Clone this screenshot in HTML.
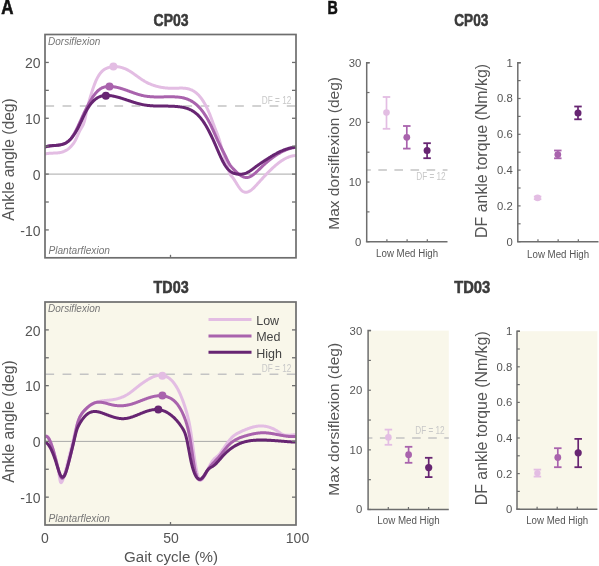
<!DOCTYPE html>
<html><head><meta charset="utf-8"><style>
html,body{margin:0;padding:0;background:#fff;width:599px;height:566px;overflow:hidden;}
svg{display:block;font-family:"Liberation Sans", sans-serif;will-change:transform;}
</style></head><body>
<svg width="599" height="566" viewBox="0 0 599 566" font-family='"Liberation Sans", sans-serif'>
<rect width="599" height="566" fill="#ffffff"/>
<text x="1.2" y="14.3" font-size="19.6" fill="#111111" text-anchor="start" font-weight="bold" font-style="normal" textLength="12.2" lengthAdjust="spacingAndGlyphs" stroke="#111" stroke-width="0.6">A</text>
<text x="327.5" y="14.0" font-size="19.0" fill="#111111" text-anchor="start" font-weight="bold" font-style="normal" textLength="10.3" lengthAdjust="spacingAndGlyphs" stroke="#111" stroke-width="0.6">B</text>
<line x1="45.0" y1="174.1" x2="296.0" y2="174.1" stroke="#a8a8a8" stroke-width="1"/>
<line x1="45.0" y1="106.1" x2="296.0" y2="106.1" stroke="#c4c4c4" stroke-width="1.5" stroke-dasharray="8.8 8.45" stroke-dashoffset="-0.3"/>
<text x="291.3" y="103.8" font-size="10.0" fill="#c8c8c8" text-anchor="end" font-weight="normal" font-style="normal" textLength="29.5" lengthAdjust="spacingAndGlyphs" >DF = 12</text>
<clipPath id="clip34"><rect x="45.0" y="34.5" width="251.0" height="223.3"/></clipPath>
<g clip-path="url(#clip34)" fill="none" stroke-width="3" stroke-linecap="round" stroke-linejoin="round">
<path d="M45.0,154.00 L45.5,153.88 L46.0,153.77 L46.5,153.67 L47.0,153.59 L47.5,153.51 L48.0,153.45 L48.5,153.39 L49.0,153.34 L49.5,153.30 L50.0,153.26 L50.5,153.23 L51.0,153.21 L51.5,153.18 L52.0,153.16 L52.5,153.15 L53.0,153.13 L53.5,153.11 L54.0,153.10 L54.5,153.08 L55.0,153.06 L55.5,153.04 L56.0,153.01 L56.5,152.98 L57.0,152.94 L57.5,152.90 L58.0,152.85 L58.5,152.79 L59.0,152.72 L59.5,152.65 L60.0,152.56 L60.5,152.47 L61.0,152.36 L61.5,152.24 L62.0,152.10 L62.5,151.95 L63.0,151.79 L63.5,151.60 L64.0,151.41 L64.5,151.19 L65.0,150.96 L65.5,150.70 L66.0,150.43 L66.5,150.14 L67.0,149.82 L67.5,149.48 L68.0,149.12 L68.5,148.74 L69.0,148.32 L69.5,147.89 L70.0,147.42 L70.5,146.93 L71.0,146.41 L71.5,145.87 L72.0,145.29 L72.5,144.67 L73.0,144.02 L73.5,143.32 L74.0,142.58 L74.5,141.78 L75.0,140.93 L75.5,140.02 L76.0,139.04 L76.5,137.99 L77.0,136.90 L77.5,135.78 L78.0,134.65 L78.5,133.52 L79.0,132.43 L79.5,131.37 L80.0,130.39 L80.5,129.48 L81.0,128.64 L81.5,127.83 L82.0,127.00 L82.5,126.10 L83.0,125.08 L83.5,123.89 L84.0,122.49 L84.5,120.83 L85.0,118.86 L85.5,116.60 L86.0,114.20 L86.5,111.77 L87.0,109.46 L87.5,107.32 L88.0,105.32 L88.5,103.44 L89.0,101.65 L89.5,99.91 L90.0,98.20 L90.5,96.51 L91.0,94.85 L91.5,93.22 L92.0,91.63 L92.5,90.08 L93.0,88.58 L93.5,87.12 L94.0,85.72 L94.5,84.37 L95.0,83.09 L95.5,81.87 L96.0,80.72 L96.5,79.63 L97.0,78.61 L97.5,77.65 L98.0,76.74 L98.5,75.89 L99.0,75.10 L99.5,74.36 L100.0,73.67 L100.5,73.02 L101.0,72.43 L101.5,71.87 L102.0,71.36 L102.5,70.89 L103.0,70.45 L103.5,70.05 L104.0,69.69 L104.5,69.35 L105.0,69.05 L105.5,68.77 L106.0,68.52 L106.5,68.29 L107.0,68.08 L107.5,67.89 L108.0,67.72 L108.5,67.56 L109.0,67.41 L109.5,67.28 L110.0,67.16 L110.5,67.05 L111.0,66.95 L111.5,66.86 L112.0,66.79 L112.5,66.73 L113.0,66.68 L113.5,66.64 L114.0,66.61 L114.5,66.59 L115.0,66.58 L115.5,66.59 L116.0,66.61 L116.5,66.64 L117.0,66.67 L117.5,66.72 L118.0,66.78 L118.5,66.86 L119.0,66.94 L119.5,67.03 L120.0,67.14 L120.5,67.25 L121.0,67.37 L121.5,67.51 L122.0,67.65 L122.5,67.81 L123.0,67.98 L123.5,68.15 L124.0,68.34 L124.5,68.53 L125.0,68.74 L125.5,68.96 L126.0,69.18 L126.5,69.42 L127.0,69.66 L127.5,69.92 L128.0,70.18 L128.5,70.45 L129.0,70.74 L129.5,71.03 L130.0,71.33 L130.5,71.64 L131.0,71.96 L131.5,72.28 L132.0,72.61 L132.5,72.95 L133.0,73.29 L133.5,73.64 L134.0,73.99 L134.5,74.35 L135.0,74.70 L135.5,75.06 L136.0,75.42 L136.5,75.79 L137.0,76.15 L137.5,76.51 L138.0,76.87 L138.5,77.23 L139.0,77.59 L139.5,77.94 L140.0,78.29 L140.5,78.64 L141.0,78.98 L141.5,79.32 L142.0,79.65 L142.5,79.97 L143.0,80.29 L143.5,80.60 L144.0,80.90 L144.5,81.20 L145.0,81.48 L145.5,81.76 L146.0,82.04 L146.5,82.30 L147.0,82.56 L147.5,82.81 L148.0,83.06 L148.5,83.30 L149.0,83.53 L149.5,83.75 L150.0,83.97 L150.5,84.18 L151.0,84.39 L151.5,84.59 L152.0,84.78 L152.5,84.97 L153.0,85.15 L153.5,85.32 L154.0,85.49 L154.5,85.66 L155.0,85.81 L155.5,85.97 L156.0,86.11 L156.5,86.25 L157.0,86.39 L157.5,86.52 L158.0,86.64 L158.5,86.76 L159.0,86.88 L159.5,86.99 L160.0,87.09 L160.5,87.19 L161.0,87.28 L161.5,87.37 L162.0,87.46 L162.5,87.54 L163.0,87.61 L163.5,87.69 L164.0,87.75 L164.5,87.81 L165.0,87.87 L165.5,87.93 L166.0,87.98 L166.5,88.02 L167.0,88.07 L167.5,88.10 L168.0,88.14 L168.5,88.17 L169.0,88.20 L169.5,88.22 L170.0,88.24 L170.5,88.26 L171.0,88.27 L171.5,88.28 L172.0,88.29 L172.5,88.29 L173.0,88.29 L173.5,88.29 L174.0,88.28 L174.5,88.27 L175.0,88.26 L175.5,88.25 L176.0,88.24 L176.5,88.22 L177.0,88.20 L177.5,88.18 L178.0,88.17 L178.5,88.15 L179.0,88.13 L179.5,88.12 L180.0,88.11 L180.5,88.10 L181.0,88.10 L181.5,88.10 L182.0,88.11 L182.5,88.12 L183.0,88.14 L183.5,88.16 L184.0,88.19 L184.5,88.24 L185.0,88.28 L185.5,88.34 L186.0,88.41 L186.5,88.49 L187.0,88.58 L187.5,88.68 L188.0,88.79 L188.5,88.92 L189.0,89.06 L189.5,89.21 L190.0,89.38 L190.5,89.57 L191.0,89.77 L191.5,89.98 L192.0,90.21 L192.5,90.46 L193.0,90.73 L193.5,91.02 L194.0,91.33 L194.5,91.65 L195.0,92.00 L195.5,92.37 L196.0,92.76 L196.5,93.17 L197.0,93.61 L197.5,94.06 L198.0,94.55 L198.5,95.05 L199.0,95.59 L199.5,96.15 L200.0,96.73 L200.5,97.34 L201.0,97.98 L201.5,98.65 L202.0,99.35 L202.5,100.08 L203.0,100.83 L203.5,101.62 L204.0,102.44 L204.5,103.29 L205.0,104.17 L205.5,105.09 L206.0,106.04 L206.5,107.02 L207.0,108.04 L207.5,109.09 L208.0,110.18 L208.5,111.31 L209.0,112.47 L209.5,113.67 L210.0,114.91 L210.5,116.19 L211.0,117.50 L211.5,118.83 L212.0,120.19 L212.5,121.55 L213.0,122.92 L213.5,124.28 L214.0,125.64 L214.5,126.98 L215.0,128.29 L215.5,129.58 L216.0,130.82 L216.5,132.06 L217.0,133.30 L217.5,134.58 L218.0,135.92 L218.5,137.35 L219.0,138.89 L219.5,140.53 L220.0,142.23 L220.5,143.98 L221.0,145.72 L221.5,147.45 L222.0,149.13 L222.5,150.79 L223.0,152.42 L223.5,154.03 L224.0,155.62 L224.5,157.20 L225.0,158.77 L225.5,160.34 L226.0,161.91 L226.5,163.48 L227.0,165.06 L227.5,166.66 L228.0,168.28 L228.5,169.92 L229.0,171.53 L229.5,172.99 L230.0,174.19 L230.5,175.02 L231.0,175.60 L231.5,176.11 L232.0,176.68 L232.5,177.30 L233.0,177.96 L233.5,178.66 L234.0,179.40 L234.5,180.16 L235.0,180.95 L235.5,181.75 L236.0,182.56 L236.5,183.37 L237.0,184.18 L237.5,184.98 L238.0,185.76 L238.5,186.53 L239.0,187.26 L239.5,187.96 L240.0,188.62 L240.5,189.24 L241.0,189.80 L241.5,190.31 L242.0,190.75 L242.5,191.14 L243.0,191.46 L243.5,191.73 L244.0,191.94 L244.5,192.10 L245.0,192.21 L245.5,192.26 L246.0,192.27 L246.5,192.24 L247.0,192.16 L247.5,192.04 L248.0,191.88 L248.5,191.69 L249.0,191.45 L249.5,191.19 L250.0,190.89 L250.5,190.56 L251.0,190.20 L251.5,189.82 L252.0,189.41 L252.5,188.98 L253.0,188.53 L253.5,188.06 L254.0,187.57 L254.5,187.07 L255.0,186.55 L255.5,186.03 L256.0,185.49 L256.5,184.95 L257.0,184.40 L257.5,183.85 L258.0,183.30 L258.5,182.74 L259.0,182.19 L259.5,181.64 L260.0,181.09 L260.5,180.54 L261.0,179.99 L261.5,179.45 L262.0,178.90 L262.5,178.36 L263.0,177.82 L263.5,177.28 L264.0,176.75 L264.5,176.21 L265.0,175.68 L265.5,175.15 L266.0,174.63 L266.5,174.11 L267.0,173.59 L267.5,173.07 L268.0,172.56 L268.5,172.06 L269.0,171.55 L269.5,171.06 L270.0,170.56 L270.5,170.07 L271.0,169.59 L271.5,169.11 L272.0,168.64 L272.5,168.17 L273.0,167.70 L273.5,167.25 L274.0,166.80 L274.5,166.35 L275.0,165.91 L275.5,165.48 L276.0,165.05 L276.5,164.64 L277.0,164.22 L277.5,163.82 L278.0,163.42 L278.5,163.03 L279.0,162.65 L279.5,162.28 L280.0,161.91 L280.5,161.55 L281.0,161.20 L281.5,160.86 L282.0,160.53 L282.5,160.21 L283.0,159.90 L283.5,159.59 L284.0,159.30 L284.5,159.01 L285.0,158.74 L285.5,158.47 L286.0,158.22 L286.5,157.97 L287.0,157.74 L287.5,157.52 L288.0,157.31 L288.5,157.11 L289.0,156.92 L289.5,156.74 L290.0,156.57 L290.5,156.42 L291.0,156.28 L291.5,156.15 L292.0,156.03 L292.5,155.92 L293.0,155.83 L293.5,155.75 L294.0,155.68 L294.5,155.63 L295.0,155.59 L295.5,155.57 L296.0,155.55 L296.5,155.56 L297.0,155.57" stroke="#e3bde3"/>
<path d="M45.0,147.00 L45.5,146.86 L46.0,146.72 L46.5,146.60 L47.0,146.49 L47.5,146.39 L48.0,146.30 L48.5,146.21 L49.0,146.14 L49.5,146.07 L50.0,146.00 L50.5,145.94 L51.0,145.88 L51.5,145.83 L52.0,145.78 L52.5,145.74 L53.0,145.69 L53.5,145.65 L54.0,145.60 L54.5,145.56 L55.0,145.51 L55.5,145.47 L56.0,145.42 L56.5,145.37 L57.0,145.31 L57.5,145.25 L58.0,145.18 L58.5,145.11 L59.0,145.03 L59.5,144.95 L60.0,144.85 L60.5,144.75 L61.0,144.64 L61.5,144.52 L62.0,144.39 L62.5,144.24 L63.0,144.09 L63.5,143.92 L64.0,143.74 L64.5,143.53 L65.0,143.31 L65.5,143.07 L66.0,142.81 L66.5,142.52 L67.0,142.20 L67.5,141.86 L68.0,141.49 L68.5,141.08 L69.0,140.64 L69.5,140.16 L70.0,139.65 L70.5,139.10 L71.0,138.50 L71.5,137.86 L72.0,137.18 L72.5,136.46 L73.0,135.69 L73.5,134.89 L74.0,134.05 L74.5,133.17 L75.0,132.27 L75.5,131.33 L76.0,130.37 L76.5,129.39 L77.0,128.38 L77.5,127.35 L78.0,126.31 L78.5,125.25 L79.0,124.17 L79.5,123.09 L80.0,122.00 L80.5,120.90 L81.0,119.80 L81.5,118.69 L82.0,117.59 L82.5,116.49 L83.0,115.40 L83.5,114.31 L84.0,113.23 L84.5,112.17 L85.0,111.12 L85.5,110.08 L86.0,109.06 L86.5,108.05 L87.0,107.06 L87.5,106.09 L88.0,105.14 L88.5,104.20 L89.0,103.28 L89.5,102.38 L90.0,101.50 L90.5,100.64 L91.0,99.81 L91.5,98.99 L92.0,98.20 L92.5,97.43 L93.0,96.68 L93.5,95.96 L94.0,95.27 L94.5,94.60 L95.0,93.96 L95.5,93.34 L96.0,92.75 L96.5,92.19 L97.0,91.66 L97.5,91.16 L98.0,90.69 L98.5,90.25 L99.0,89.84 L99.5,89.46 L100.0,89.11 L100.5,88.78 L101.0,88.48 L101.5,88.21 L102.0,87.96 L102.5,87.73 L103.0,87.53 L103.5,87.35 L104.0,87.18 L104.5,87.04 L105.0,86.92 L105.5,86.81 L106.0,86.72 L106.5,86.64 L107.0,86.58 L107.5,86.54 L108.0,86.50 L108.5,86.48 L109.0,86.47 L109.5,86.47 L110.0,86.48 L110.5,86.49 L111.0,86.52 L111.5,86.55 L112.0,86.59 L112.5,86.64 L113.0,86.70 L113.5,86.76 L114.0,86.83 L114.5,86.91 L115.0,86.99 L115.5,87.09 L116.0,87.18 L116.5,87.29 L117.0,87.39 L117.5,87.51 L118.0,87.63 L118.5,87.75 L119.0,87.88 L119.5,88.02 L120.0,88.16 L120.5,88.30 L121.0,88.45 L121.5,88.60 L122.0,88.76 L122.5,88.91 L123.0,89.08 L123.5,89.24 L124.0,89.41 L124.5,89.58 L125.0,89.75 L125.5,89.92 L126.0,90.10 L126.5,90.28 L127.0,90.46 L127.5,90.64 L128.0,90.82 L128.5,91.00 L129.0,91.18 L129.5,91.37 L130.0,91.55 L130.5,91.73 L131.0,91.92 L131.5,92.10 L132.0,92.28 L132.5,92.46 L133.0,92.64 L133.5,92.82 L134.0,92.99 L134.5,93.17 L135.0,93.34 L135.5,93.51 L136.0,93.68 L136.5,93.84 L137.0,94.01 L137.5,94.17 L138.0,94.32 L138.5,94.47 L139.0,94.62 L139.5,94.77 L140.0,94.91 L140.5,95.04 L141.0,95.17 L141.5,95.30 L142.0,95.42 L142.5,95.53 L143.0,95.64 L143.5,95.75 L144.0,95.85 L144.5,95.94 L145.0,96.03 L145.5,96.11 L146.0,96.19 L146.5,96.26 L147.0,96.33 L147.5,96.40 L148.0,96.46 L148.5,96.51 L149.0,96.56 L149.5,96.61 L150.0,96.66 L150.5,96.70 L151.0,96.73 L151.5,96.77 L152.0,96.80 L152.5,96.82 L153.0,96.85 L153.5,96.87 L154.0,96.89 L154.5,96.90 L155.0,96.91 L155.5,96.92 L156.0,96.93 L156.5,96.94 L157.0,96.94 L157.5,96.95 L158.0,96.95 L158.5,96.94 L159.0,96.94 L159.5,96.94 L160.0,96.93 L160.5,96.93 L161.0,96.92 L161.5,96.91 L162.0,96.90 L162.5,96.89 L163.0,96.89 L163.5,96.88 L164.0,96.87 L164.5,96.86 L165.0,96.85 L165.5,96.84 L166.0,96.83 L166.5,96.82 L167.0,96.81 L167.5,96.80 L168.0,96.80 L168.5,96.79 L169.0,96.79 L169.5,96.79 L170.0,96.78 L170.5,96.79 L171.0,96.79 L171.5,96.79 L172.0,96.80 L172.5,96.81 L173.0,96.82 L173.5,96.83 L174.0,96.84 L174.5,96.86 L175.0,96.88 L175.5,96.91 L176.0,96.93 L176.5,96.96 L177.0,97.00 L177.5,97.04 L178.0,97.08 L178.5,97.13 L179.0,97.18 L179.5,97.24 L180.0,97.30 L180.5,97.37 L181.0,97.45 L181.5,97.53 L182.0,97.62 L182.5,97.72 L183.0,97.82 L183.5,97.94 L184.0,98.06 L184.5,98.19 L185.0,98.33 L185.5,98.48 L186.0,98.63 L186.5,98.80 L187.0,98.98 L187.5,99.17 L188.0,99.37 L188.5,99.58 L189.0,99.80 L189.5,100.03 L190.0,100.28 L190.5,100.54 L191.0,100.81 L191.5,101.09 L192.0,101.39 L192.5,101.70 L193.0,102.02 L193.5,102.36 L194.0,102.72 L194.5,103.08 L195.0,103.47 L195.5,103.87 L196.0,104.28 L196.5,104.71 L197.0,105.16 L197.5,105.63 L198.0,106.11 L198.5,106.61 L199.0,107.12 L199.5,107.66 L200.0,108.21 L200.5,108.78 L201.0,109.37 L201.5,109.98 L202.0,110.62 L202.5,111.27 L203.0,111.94 L203.5,112.63 L204.0,113.34 L204.5,114.07 L205.0,114.83 L205.5,115.60 L206.0,116.40 L206.5,117.22 L207.0,118.07 L207.5,118.93 L208.0,119.83 L208.5,120.74 L209.0,121.68 L209.5,122.64 L210.0,123.63 L210.5,124.64 L211.0,125.68 L211.5,126.73 L212.0,127.80 L212.5,128.89 L213.0,129.99 L213.5,131.10 L214.0,132.21 L214.5,133.33 L215.0,134.46 L215.5,135.58 L216.0,136.70 L216.5,137.81 L217.0,138.92 L217.5,140.01 L218.0,141.09 L218.5,142.16 L219.0,143.21 L219.5,144.24 L220.0,145.25 L220.5,146.26 L221.0,147.25 L221.5,148.24 L222.0,149.23 L222.5,150.21 L223.0,151.20 L223.5,152.19 L224.0,153.18 L224.5,154.18 L225.0,155.20 L225.5,156.23 L226.0,157.27 L226.5,158.32 L227.0,159.37 L227.5,160.40 L228.0,161.40 L228.5,162.35 L229.0,163.25 L229.5,164.09 L230.0,164.86 L230.5,165.58 L231.0,166.25 L231.5,166.88 L232.0,167.47 L232.5,168.04 L233.0,168.58 L233.5,169.10 L234.0,169.61 L234.5,170.12 L235.0,170.62 L235.5,171.11 L236.0,171.59 L236.5,172.06 L237.0,172.53 L237.5,172.98 L238.0,173.41 L238.5,173.83 L239.0,174.24 L239.5,174.63 L240.0,175.00 L240.5,175.35 L241.0,175.67 L241.5,175.98 L242.0,176.26 L242.5,176.52 L243.0,176.75 L243.5,176.96 L244.0,177.13 L244.5,177.28 L245.0,177.39 L245.5,177.48 L246.0,177.52 L246.5,177.54 L247.0,177.52 L247.5,177.46 L248.0,177.37 L248.5,177.24 L249.0,177.09 L249.5,176.90 L250.0,176.69 L250.5,176.45 L251.0,176.18 L251.5,175.89 L252.0,175.57 L252.5,175.24 L253.0,174.88 L253.5,174.50 L254.0,174.11 L254.5,173.70 L255.0,173.28 L255.5,172.85 L256.0,172.40 L256.5,171.94 L257.0,171.47 L257.5,171.00 L258.0,170.52 L258.5,170.03 L259.0,169.55 L259.5,169.06 L260.0,168.57 L260.5,168.08 L261.0,167.59 L261.5,167.11 L262.0,166.63 L262.5,166.16 L263.0,165.69 L263.5,165.22 L264.0,164.76 L264.5,164.31 L265.0,163.86 L265.5,163.41 L266.0,162.97 L266.5,162.54 L267.0,162.11 L267.5,161.68 L268.0,161.26 L268.5,160.84 L269.0,160.43 L269.5,160.03 L270.0,159.63 L270.5,159.23 L271.0,158.85 L271.5,158.46 L272.0,158.08 L272.5,157.71 L273.0,157.34 L273.5,156.98 L274.0,156.63 L274.5,156.28 L275.0,155.93 L275.5,155.59 L276.0,155.26 L276.5,154.93 L277.0,154.61 L277.5,154.30 L278.0,153.99 L278.5,153.69 L279.0,153.39 L279.5,153.10 L280.0,152.82 L280.5,152.54 L281.0,152.27 L281.5,152.00 L282.0,151.74 L282.5,151.49 L283.0,151.25 L283.5,151.01 L284.0,150.78 L284.5,150.55 L285.0,150.33 L285.5,150.12 L286.0,149.92 L286.5,149.72 L287.0,149.53 L287.5,149.34 L288.0,149.17 L288.5,149.00 L289.0,148.84 L289.5,148.68 L290.0,148.53 L290.5,148.39 L291.0,148.26 L291.5,148.13 L292.0,148.01 L292.5,147.90 L293.0,147.80 L293.5,147.70 L294.0,147.62 L294.5,147.54 L295.0,147.46 L295.5,147.40 L296.0,147.34 L296.5,147.29 L297.0,147.25" stroke="#a963ad"/>
<path d="M45.0,147.02 L45.5,146.84 L46.0,146.67 L46.5,146.52 L47.0,146.39 L47.5,146.27 L48.0,146.16 L48.5,146.07 L49.0,145.98 L49.5,145.91 L50.0,145.84 L50.5,145.79 L51.0,145.74 L51.5,145.69 L52.0,145.65 L52.5,145.62 L53.0,145.58 L53.5,145.55 L54.0,145.53 L54.5,145.50 L55.0,145.47 L55.5,145.44 L56.0,145.41 L56.5,145.37 L57.0,145.33 L57.5,145.29 L58.0,145.24 L58.5,145.18 L59.0,145.11 L59.5,145.04 L60.0,144.95 L60.5,144.86 L61.0,144.75 L61.5,144.63 L62.0,144.50 L62.5,144.35 L63.0,144.18 L63.5,144.00 L64.0,143.80 L64.5,143.59 L65.0,143.35 L65.5,143.10 L66.0,142.82 L66.5,142.52 L67.0,142.20 L67.5,141.85 L68.0,141.48 L68.5,141.09 L69.0,140.66 L69.5,140.21 L70.0,139.73 L70.5,139.22 L71.0,138.68 L71.5,138.11 L72.0,137.50 L72.5,136.87 L73.0,136.20 L73.5,135.50 L74.0,134.78 L74.5,134.02 L75.0,133.24 L75.5,132.42 L76.0,131.58 L76.5,130.72 L77.0,129.83 L77.5,128.91 L78.0,127.97 L78.5,127.00 L79.0,126.01 L79.5,125.00 L80.0,123.97 L80.5,122.92 L81.0,121.85 L81.5,120.76 L82.0,119.67 L82.5,118.58 L83.0,117.49 L83.5,116.41 L84.0,115.34 L84.5,114.30 L85.0,113.29 L85.5,112.30 L86.0,111.36 L86.5,110.44 L87.0,109.56 L87.5,108.71 L88.0,107.90 L88.5,107.11 L89.0,106.36 L89.5,105.64 L90.0,104.95 L90.5,104.28 L91.0,103.65 L91.5,103.04 L92.0,102.47 L92.5,101.92 L93.0,101.39 L93.5,100.90 L94.0,100.43 L94.5,99.98 L95.0,99.56 L95.5,99.16 L96.0,98.79 L96.5,98.44 L97.0,98.11 L97.5,97.80 L98.0,97.52 L98.5,97.25 L99.0,97.01 L99.5,96.78 L100.0,96.57 L100.5,96.39 L101.0,96.22 L101.5,96.06 L102.0,95.93 L102.5,95.81 L103.0,95.70 L103.5,95.62 L104.0,95.54 L104.5,95.48 L105.0,95.43 L105.5,95.40 L106.0,95.38 L106.5,95.37 L107.0,95.37 L107.5,95.38 L108.0,95.41 L108.5,95.44 L109.0,95.48 L109.5,95.53 L110.0,95.59 L110.5,95.65 L111.0,95.72 L111.5,95.80 L112.0,95.89 L112.5,95.97 L113.0,96.07 L113.5,96.17 L114.0,96.27 L114.5,96.38 L115.0,96.49 L115.5,96.61 L116.0,96.73 L116.5,96.85 L117.0,96.98 L117.5,97.11 L118.0,97.24 L118.5,97.38 L119.0,97.52 L119.5,97.66 L120.0,97.81 L120.5,97.96 L121.0,98.11 L121.5,98.26 L122.0,98.42 L122.5,98.58 L123.0,98.74 L123.5,98.90 L124.0,99.06 L124.5,99.22 L125.0,99.39 L125.5,99.55 L126.0,99.72 L126.5,99.88 L127.0,100.05 L127.5,100.22 L128.0,100.39 L128.5,100.55 L129.0,100.72 L129.5,100.89 L130.0,101.05 L130.5,101.22 L131.0,101.39 L131.5,101.55 L132.0,101.71 L132.5,101.88 L133.0,102.04 L133.5,102.19 L134.0,102.35 L134.5,102.51 L135.0,102.66 L135.5,102.81 L136.0,102.96 L136.5,103.11 L137.0,103.25 L137.5,103.39 L138.0,103.53 L138.5,103.66 L139.0,103.79 L139.5,103.92 L140.0,104.04 L140.5,104.16 L141.0,104.28 L141.5,104.39 L142.0,104.50 L142.5,104.60 L143.0,104.70 L143.5,104.80 L144.0,104.88 L144.5,104.97 L145.0,105.05 L145.5,105.13 L146.0,105.20 L146.5,105.27 L147.0,105.33 L147.5,105.39 L148.0,105.45 L148.5,105.51 L149.0,105.56 L149.5,105.61 L150.0,105.65 L150.5,105.69 L151.0,105.73 L151.5,105.77 L152.0,105.80 L152.5,105.83 L153.0,105.86 L153.5,105.88 L154.0,105.91 L154.5,105.93 L155.0,105.95 L155.5,105.96 L156.0,105.98 L156.5,105.99 L157.0,106.01 L157.5,106.02 L158.0,106.03 L158.5,106.04 L159.0,106.04 L159.5,106.05 L160.0,106.06 L160.5,106.06 L161.0,106.07 L161.5,106.07 L162.0,106.07 L162.5,106.08 L163.0,106.08 L163.5,106.08 L164.0,106.08 L164.5,106.09 L165.0,106.09 L165.5,106.09 L166.0,106.10 L166.5,106.10 L167.0,106.11 L167.5,106.11 L168.0,106.12 L168.5,106.13 L169.0,106.14 L169.5,106.15 L170.0,106.16 L170.5,106.18 L171.0,106.19 L171.5,106.21 L172.0,106.23 L172.5,106.25 L173.0,106.27 L173.5,106.30 L174.0,106.32 L174.5,106.35 L175.0,106.39 L175.5,106.42 L176.0,106.46 L176.5,106.50 L177.0,106.54 L177.5,106.59 L178.0,106.64 L178.5,106.69 L179.0,106.75 L179.5,106.81 L180.0,106.87 L180.5,106.94 L181.0,107.01 L181.5,107.09 L182.0,107.17 L182.5,107.26 L183.0,107.35 L183.5,107.45 L184.0,107.56 L184.5,107.67 L185.0,107.80 L185.5,107.93 L186.0,108.07 L186.5,108.21 L187.0,108.37 L187.5,108.54 L188.0,108.72 L188.5,108.91 L189.0,109.11 L189.5,109.32 L190.0,109.54 L190.5,109.78 L191.0,110.03 L191.5,110.30 L192.0,110.58 L192.5,110.87 L193.0,111.18 L193.5,111.50 L194.0,111.84 L194.5,112.19 L195.0,112.57 L195.5,112.96 L196.0,113.36 L196.5,113.79 L197.0,114.23 L197.5,114.69 L198.0,115.18 L198.5,115.68 L199.0,116.20 L199.5,116.74 L200.0,117.31 L200.5,117.89 L201.0,118.50 L201.5,119.13 L202.0,119.79 L202.5,120.47 L203.0,121.17 L203.5,121.89 L204.0,122.64 L204.5,123.40 L205.0,124.19 L205.5,125.00 L206.0,125.84 L206.5,126.69 L207.0,127.56 L207.5,128.46 L208.0,129.37 L208.5,130.30 L209.0,131.25 L209.5,132.22 L210.0,133.20 L210.5,134.21 L211.0,135.23 L211.5,136.26 L212.0,137.32 L212.5,138.39 L213.0,139.47 L213.5,140.57 L214.0,141.69 L214.5,142.82 L215.0,143.96 L215.5,145.11 L216.0,146.27 L216.5,147.43 L217.0,148.60 L217.5,149.76 L218.0,150.92 L218.5,152.07 L219.0,153.21 L219.5,154.34 L220.0,155.46 L220.5,156.56 L221.0,157.64 L221.5,158.70 L222.0,159.73 L222.5,160.73 L223.0,161.70 L223.5,162.64 L224.0,163.55 L224.5,164.41 L225.0,165.24 L225.5,166.02 L226.0,166.75 L226.5,167.44 L227.0,168.08 L227.5,168.68 L228.0,169.24 L228.5,169.75 L229.0,170.23 L229.5,170.68 L230.0,171.09 L230.5,171.46 L231.0,171.81 L231.5,172.12 L232.0,172.40 L232.5,172.66 L233.0,172.89 L233.5,173.10 L234.0,173.29 L234.5,173.45 L235.0,173.60 L235.5,173.72 L236.0,173.84 L236.5,173.93 L237.0,174.02 L237.5,174.09 L238.0,174.15 L238.5,174.19 L239.0,174.22 L239.5,174.24 L240.0,174.25 L240.5,174.24 L241.0,174.21 L241.5,174.17 L242.0,174.12 L242.5,174.05 L243.0,173.97 L243.5,173.87 L244.0,173.75 L244.5,173.62 L245.0,173.47 L245.5,173.30 L246.0,173.12 L246.5,172.92 L247.0,172.70 L247.5,172.46 L248.0,172.21 L248.5,171.94 L249.0,171.65 L249.5,171.34 L250.0,171.01 L250.5,170.67 L251.0,170.32 L251.5,169.96 L252.0,169.59 L252.5,169.22 L253.0,168.84 L253.5,168.46 L254.0,168.08 L254.5,167.70 L255.0,167.32 L255.5,166.95 L256.0,166.58 L256.5,166.22 L257.0,165.86 L257.5,165.51 L258.0,165.16 L258.5,164.81 L259.0,164.47 L259.5,164.13 L260.0,163.79 L260.5,163.45 L261.0,163.11 L261.5,162.77 L262.0,162.44 L262.5,162.10 L263.0,161.77 L263.5,161.43 L264.0,161.10 L264.5,160.77 L265.0,160.44 L265.5,160.11 L266.0,159.78 L266.5,159.46 L267.0,159.13 L267.5,158.81 L268.0,158.49 L268.5,158.17 L269.0,157.86 L269.5,157.54 L270.0,157.23 L270.5,156.92 L271.0,156.62 L271.5,156.31 L272.0,156.01 L272.5,155.71 L273.0,155.42 L273.5,155.13 L274.0,154.84 L274.5,154.56 L275.0,154.28 L275.5,154.00 L276.0,153.72 L276.5,153.45 L277.0,153.19 L277.5,152.93 L278.0,152.67 L278.5,152.42 L279.0,152.17 L279.5,151.92 L280.0,151.69 L280.5,151.45 L281.0,151.22 L281.5,151.00 L282.0,150.78 L282.5,150.56 L283.0,150.35 L283.5,150.15 L284.0,149.95 L284.5,149.76 L285.0,149.57 L285.5,149.39 L286.0,149.22 L286.5,149.05 L287.0,148.89 L287.5,148.73 L288.0,148.58 L288.5,148.44 L289.0,148.30 L289.5,148.18 L290.0,148.05 L290.5,147.94 L291.0,147.83 L291.5,147.73 L292.0,147.64 L292.5,147.55 L293.0,147.47 L293.5,147.40 L294.0,147.34 L294.5,147.28 L295.0,147.24 L295.5,147.20 L296.0,147.17 L296.5,147.15 L297.0,147.13" stroke="#672572"/>
</g>
<circle cx="113.4" cy="66.6" r="4" fill="#e3bde3"/>
<circle cx="109.5" cy="86.5" r="4" fill="#a963ad"/>
<circle cx="105.9" cy="95.8" r="4" fill="#672572"/>
<rect x="45.0" y="34.5" width="251.0" height="223.3" fill="none" stroke="#6e6e6e" stroke-width="1.7"/>
<line x1="45.0" y1="229.93" x2="48.8" y2="229.93" stroke="#6e6e6e" stroke-width="1.3"/>
<line x1="296.0" y1="229.93" x2="292.0" y2="229.93" stroke="#6e6e6e" stroke-width="1.3"/>
<text x="40.5" y="235.7" font-size="14.0" fill="#555555" text-anchor="end" font-weight="normal" font-style="normal" >-10</text>
<line x1="45.0" y1="202.01" x2="48.8" y2="202.01" stroke="#6e6e6e" stroke-width="1.3"/>
<line x1="296.0" y1="202.01" x2="292.0" y2="202.01" stroke="#6e6e6e" stroke-width="1.3"/>
<line x1="45.0" y1="174.10" x2="48.8" y2="174.10" stroke="#6e6e6e" stroke-width="1.3"/>
<line x1="296.0" y1="174.10" x2="292.0" y2="174.10" stroke="#6e6e6e" stroke-width="1.3"/>
<text x="40.5" y="179.9" font-size="14.0" fill="#555555" text-anchor="end" font-weight="normal" font-style="normal" >0</text>
<line x1="45.0" y1="146.19" x2="48.8" y2="146.19" stroke="#6e6e6e" stroke-width="1.3"/>
<line x1="296.0" y1="146.19" x2="292.0" y2="146.19" stroke="#6e6e6e" stroke-width="1.3"/>
<line x1="45.0" y1="118.27" x2="48.8" y2="118.27" stroke="#6e6e6e" stroke-width="1.3"/>
<line x1="296.0" y1="118.27" x2="292.0" y2="118.27" stroke="#6e6e6e" stroke-width="1.3"/>
<text x="40.5" y="124.1" font-size="14.0" fill="#555555" text-anchor="end" font-weight="normal" font-style="normal" >10</text>
<line x1="45.0" y1="90.36" x2="48.8" y2="90.36" stroke="#6e6e6e" stroke-width="1.3"/>
<line x1="296.0" y1="90.36" x2="292.0" y2="90.36" stroke="#6e6e6e" stroke-width="1.3"/>
<line x1="45.0" y1="62.45" x2="48.8" y2="62.45" stroke="#6e6e6e" stroke-width="1.3"/>
<line x1="296.0" y1="62.45" x2="292.0" y2="62.45" stroke="#6e6e6e" stroke-width="1.3"/>
<text x="40.5" y="68.2" font-size="14.0" fill="#555555" text-anchor="end" font-weight="normal" font-style="normal" >20</text>
<line x1="170.5" y1="257.8" x2="170.5" y2="254.8" stroke="#6e6e6e" stroke-width="1.3"/>
<text x="48.0" y="44.7" font-size="10.0" fill="#777777" text-anchor="start" font-weight="normal" font-style="italic" textLength="52.3" lengthAdjust="spacingAndGlyphs" >Dorsiflexion</text>
<text x="48.4" y="254.4" font-size="10.0" fill="#777777" text-anchor="start" font-weight="normal" font-style="italic" textLength="61.6" lengthAdjust="spacingAndGlyphs" >Plantarflexion</text>
<text x="171.1" y="25.8" font-size="16.0" fill="#3a3a3a" text-anchor="middle" font-weight="bold" font-style="normal" textLength="35.0" lengthAdjust="spacingAndGlyphs" stroke="#3a3a3a" stroke-width="0.55">CP03</text>
<text transform="translate(14.2,159.5) rotate(-90)" font-size="16" fill="#555555" text-anchor="middle" textLength="122.5" lengthAdjust="spacingAndGlyphs">Ankle angle (deg)</text>
<rect x="45.0" y="302.0" width="251.0" height="223.0" fill="#f9f7ea"/>
<line x1="45.0" y1="441.4" x2="296.0" y2="441.4" stroke="#a8a8a8" stroke-width="1"/>
<line x1="45.0" y1="374.3" x2="296.0" y2="374.3" stroke="#c4c4c4" stroke-width="1.5" stroke-dasharray="8.8 8.45" stroke-dashoffset="-0.3"/>
<text x="291.3" y="371.5" font-size="10.0" fill="#c8c8c8" text-anchor="end" font-weight="normal" font-style="normal" textLength="29.5" lengthAdjust="spacingAndGlyphs" >DF = 12</text>
<clipPath id="clip302"><rect x="45.0" y="302.0" width="251.0" height="223.0"/></clipPath>
<g clip-path="url(#clip302)" fill="none" stroke-width="3" stroke-linecap="round" stroke-linejoin="round">
<path d="M45.0,436.82 L45.5,436.37 L46.0,436.13 L46.5,436.11 L47.0,436.28 L47.5,436.64 L48.0,437.16 L48.5,437.85 L49.0,438.70 L49.5,439.68 L50.0,440.79 L50.5,442.01 L51.0,443.35 L51.5,444.78 L52.0,446.29 L52.5,447.88 L53.0,449.52 L53.5,451.22 L54.0,452.96 L54.5,454.72 L55.0,456.51 L55.5,458.33 L56.0,460.20 L56.5,462.13 L57.0,464.13 L57.5,466.25 L58.0,468.53 L58.5,471.09 L59.0,473.98 L59.5,477.17 L60.0,480.08 L60.5,482.01 L61.0,482.70 L61.5,482.47 L62.0,481.67 L62.5,480.61 L63.0,479.35 L63.5,477.93 L64.0,476.36 L64.5,474.66 L65.0,472.85 L65.5,470.97 L66.0,469.02 L66.5,467.02 L67.0,465.01 L67.5,463.00 L68.0,461.00 L68.5,459.02 L69.0,457.05 L69.5,455.08 L70.0,453.12 L70.5,451.14 L71.0,449.16 L71.5,447.15 L72.0,445.12 L72.5,443.07 L73.0,440.98 L73.5,438.87 L74.0,436.76 L74.5,434.66 L75.0,432.60 L75.5,430.59 L76.0,428.64 L76.5,426.78 L77.0,425.02 L77.5,423.37 L78.0,421.85 L78.5,420.45 L79.0,419.16 L79.5,417.97 L80.0,416.88 L80.5,415.87 L81.0,414.95 L81.5,414.11 L82.0,413.33 L82.5,412.62 L83.0,411.96 L83.5,411.35 L84.0,410.78 L84.5,410.24 L85.0,409.73 L85.5,409.24 L86.0,408.76 L86.5,408.30 L87.0,407.86 L87.5,407.43 L88.0,407.01 L88.5,406.61 L89.0,406.23 L89.5,405.86 L90.0,405.50 L90.5,405.16 L91.0,404.83 L91.5,404.52 L92.0,404.22 L92.5,403.94 L93.0,403.67 L93.5,403.42 L94.0,403.18 L94.5,402.95 L95.0,402.74 L95.5,402.54 L96.0,402.35 L96.5,402.18 L97.0,402.01 L97.5,401.86 L98.0,401.72 L98.5,401.59 L99.0,401.46 L99.5,401.35 L100.0,401.24 L100.5,401.15 L101.0,401.06 L101.5,400.97 L102.0,400.89 L102.5,400.82 L103.0,400.76 L103.5,400.69 L104.0,400.64 L104.5,400.58 L105.0,400.53 L105.5,400.48 L106.0,400.43 L106.5,400.39 L107.0,400.34 L107.5,400.30 L108.0,400.25 L108.5,400.20 L109.0,400.16 L109.5,400.11 L110.0,400.06 L110.5,400.00 L111.0,399.94 L111.5,399.88 L112.0,399.81 L112.5,399.74 L113.0,399.67 L113.5,399.58 L114.0,399.50 L114.5,399.40 L115.0,399.30 L115.5,399.20 L116.0,399.09 L116.5,398.97 L117.0,398.85 L117.5,398.72 L118.0,398.58 L118.5,398.43 L119.0,398.28 L119.5,398.12 L120.0,397.96 L120.5,397.78 L121.0,397.60 L121.5,397.41 L122.0,397.21 L122.5,397.00 L123.0,396.79 L123.5,396.56 L124.0,396.33 L124.5,396.09 L125.0,395.83 L125.5,395.57 L126.0,395.30 L126.5,395.02 L127.0,394.73 L127.5,394.43 L128.0,394.11 L128.5,393.79 L129.0,393.46 L129.5,393.11 L130.0,392.76 L130.5,392.40 L131.0,392.03 L131.5,391.65 L132.0,391.26 L132.5,390.87 L133.0,390.48 L133.5,390.08 L134.0,389.68 L134.5,389.28 L135.0,388.87 L135.5,388.47 L136.0,388.06 L136.5,387.66 L137.0,387.26 L137.5,386.86 L138.0,386.47 L138.5,386.07 L139.0,385.69 L139.5,385.31 L140.0,384.93 L140.5,384.55 L141.0,384.18 L141.5,383.82 L142.0,383.46 L142.5,383.10 L143.0,382.75 L143.5,382.40 L144.0,382.06 L144.5,381.72 L145.0,381.39 L145.5,381.06 L146.0,380.74 L146.5,380.42 L147.0,380.11 L147.5,379.80 L148.0,379.50 L148.5,379.20 L149.0,378.92 L149.5,378.64 L150.0,378.36 L150.5,378.10 L151.0,377.84 L151.5,377.59 L152.0,377.35 L152.5,377.13 L153.0,376.91 L153.5,376.70 L154.0,376.51 L154.5,376.32 L155.0,376.15 L155.5,375.99 L156.0,375.85 L156.5,375.72 L157.0,375.60 L157.5,375.49 L158.0,375.40 L158.5,375.33 L159.0,375.27 L159.5,375.23 L160.0,375.21 L160.5,375.20 L161.0,375.21 L161.5,375.24 L162.0,375.29 L162.5,375.35 L163.0,375.44 L163.5,375.54 L164.0,375.67 L164.5,375.81 L165.0,375.98 L165.5,376.17 L166.0,376.38 L166.5,376.61 L167.0,376.87 L167.5,377.15 L168.0,377.45 L168.5,377.78 L169.0,378.13 L169.5,378.51 L170.0,378.92 L170.5,379.35 L171.0,379.81 L171.5,380.29 L172.0,380.81 L172.5,381.36 L173.0,381.93 L173.5,382.54 L174.0,383.18 L174.5,383.86 L175.0,384.57 L175.5,385.31 L176.0,386.09 L176.5,386.90 L177.0,387.75 L177.5,388.64 L178.0,389.57 L178.5,390.54 L179.0,391.54 L179.5,392.59 L180.0,393.68 L180.5,394.81 L181.0,395.98 L181.5,397.20 L182.0,398.46 L182.5,399.77 L183.0,401.13 L183.5,402.53 L184.0,403.98 L184.5,405.47 L185.0,407.02 L185.5,408.62 L186.0,410.27 L186.5,411.96 L187.0,413.72 L187.5,415.56 L188.0,417.50 L188.5,419.59 L189.0,421.84 L189.5,424.29 L190.0,426.96 L190.5,429.89 L191.0,433.08 L191.5,436.49 L192.0,440.07 L192.5,443.74 L193.0,447.46 L193.5,451.15 L194.0,454.77 L194.5,458.24 L195.0,461.52 L195.5,464.59 L196.0,467.42 L196.5,470.01 L197.0,472.34 L197.5,474.39 L198.0,476.15 L198.5,477.60 L199.0,478.73 L199.5,479.53 L200.0,480.02 L200.5,480.24 L201.0,480.22 L201.5,479.97 L202.0,479.54 L202.5,478.96 L203.0,478.25 L203.5,477.45 L204.0,476.58 L204.5,475.67 L205.0,474.73 L205.5,473.77 L206.0,472.79 L206.5,471.80 L207.0,470.81 L207.5,469.81 L208.0,468.81 L208.5,467.83 L209.0,466.86 L209.5,465.91 L210.0,464.99 L210.5,464.10 L211.0,463.24 L211.5,462.43 L212.0,461.67 L212.5,460.96 L213.0,460.31 L213.5,459.72 L214.0,459.17 L214.5,458.66 L215.0,458.19 L215.5,457.74 L216.0,457.30 L216.5,456.87 L217.0,456.44 L217.5,455.99 L218.0,455.53 L218.5,455.04 L219.0,454.52 L219.5,453.95 L220.0,453.35 L220.5,452.71 L221.0,452.05 L221.5,451.37 L222.0,450.66 L222.5,449.95 L223.0,449.22 L223.5,448.49 L224.0,447.76 L224.5,447.04 L225.0,446.31 L225.5,445.59 L226.0,444.87 L226.5,444.16 L227.0,443.47 L227.5,442.78 L228.0,442.11 L228.5,441.45 L229.0,440.80 L229.5,440.18 L230.0,439.57 L230.5,438.99 L231.0,438.43 L231.5,437.89 L232.0,437.38 L232.5,436.90 L233.0,436.44 L233.5,436.02 L234.0,435.61 L234.5,435.23 L235.0,434.87 L235.5,434.52 L236.0,434.20 L236.5,433.89 L237.0,433.60 L237.5,433.32 L238.0,433.05 L238.5,432.79 L239.0,432.55 L239.5,432.30 L240.0,432.07 L240.5,431.84 L241.0,431.61 L241.5,431.38 L242.0,431.16 L242.5,430.93 L243.0,430.71 L243.5,430.49 L244.0,430.28 L244.5,430.06 L245.0,429.85 L245.5,429.65 L246.0,429.44 L246.5,429.24 L247.0,429.05 L247.5,428.85 L248.0,428.66 L248.5,428.48 L249.0,428.30 L249.5,428.13 L250.0,427.96 L250.5,427.80 L251.0,427.64 L251.5,427.49 L252.0,427.34 L252.5,427.20 L253.0,427.06 L253.5,426.94 L254.0,426.82 L254.5,426.70 L255.0,426.60 L255.5,426.50 L256.0,426.41 L256.5,426.32 L257.0,426.25 L257.5,426.18 L258.0,426.12 L258.5,426.08 L259.0,426.03 L259.5,426.00 L260.0,425.98 L260.5,425.97 L261.0,425.96 L261.5,425.97 L262.0,425.98 L262.5,426.01 L263.0,426.04 L263.5,426.08 L264.0,426.13 L264.5,426.20 L265.0,426.27 L265.5,426.35 L266.0,426.44 L266.5,426.53 L267.0,426.64 L267.5,426.76 L268.0,426.89 L268.5,427.03 L269.0,427.17 L269.5,427.33 L270.0,427.50 L270.5,427.67 L271.0,427.86 L271.5,428.06 L272.0,428.26 L272.5,428.48 L273.0,428.70 L273.5,428.94 L274.0,429.19 L274.5,429.44 L275.0,429.71 L275.5,429.98 L276.0,430.27 L276.5,430.57 L277.0,430.87 L277.5,431.19 L278.0,431.52 L278.5,431.85 L279.0,432.18 L279.5,432.51 L280.0,432.83 L280.5,433.15 L281.0,433.46 L281.5,433.75 L282.0,434.02 L282.5,434.28 L283.0,434.51 L283.5,434.71 L284.0,434.88 L284.5,435.02 L285.0,435.14 L285.5,435.22 L286.0,435.29 L286.5,435.33 L287.0,435.36 L287.5,435.36 L288.0,435.36 L288.5,435.34 L289.0,435.30 L289.5,435.26 L290.0,435.21 L290.5,435.16 L291.0,435.11 L291.5,435.05 L292.0,435.00 L292.5,434.95 L293.0,434.90 L293.5,434.86 L294.0,434.84 L294.5,434.82 L295.0,434.82 L295.5,434.84 L296.0,434.87 L296.5,434.92 L297.0,435.00" stroke="#e3bde3"/>
<path d="M45.0,436.78 L45.5,436.46 L46.0,436.32 L46.5,436.36 L47.0,436.56 L47.5,436.93 L48.0,437.44 L48.5,438.10 L49.0,438.90 L49.5,439.83 L50.0,440.88 L50.5,442.04 L51.0,443.31 L51.5,444.68 L52.0,446.15 L52.5,447.69 L53.0,449.31 L53.5,451.00 L54.0,452.75 L54.5,454.55 L55.0,456.40 L55.5,458.29 L56.0,460.20 L56.5,462.14 L57.0,464.10 L57.5,466.05 L58.0,467.99 L58.5,469.88 L59.0,471.69 L59.5,473.40 L60.0,474.93 L60.5,476.23 L61.0,477.22 L61.5,477.86 L62.0,478.17 L62.5,478.15 L63.0,477.85 L63.5,477.29 L64.0,476.50 L64.5,475.50 L65.0,474.32 L65.5,472.98 L66.0,471.52 L66.5,469.96 L67.0,468.33 L67.5,466.65 L68.0,464.92 L68.5,463.14 L69.0,461.30 L69.5,459.42 L70.0,457.49 L70.5,455.50 L71.0,453.45 L71.5,451.34 L72.0,449.17 L72.5,446.95 L73.0,444.66 L73.5,442.31 L74.0,439.91 L74.5,437.45 L75.0,434.94 L75.5,432.44 L76.0,429.99 L76.5,427.64 L77.0,425.46 L77.5,423.50 L78.0,421.77 L78.5,420.25 L79.0,418.92 L79.5,417.74 L80.0,416.70 L80.5,415.77 L81.0,414.92 L81.5,414.12 L82.0,413.39 L82.5,412.71 L83.0,412.07 L83.5,411.47 L84.0,410.90 L84.5,410.36 L85.0,409.84 L85.5,409.34 L86.0,408.84 L86.5,408.36 L87.0,407.89 L87.5,407.44 L88.0,407.00 L88.5,406.57 L89.0,406.17 L89.5,405.77 L90.0,405.40 L90.5,405.04 L91.0,404.70 L91.5,404.38 L92.0,404.08 L92.5,403.81 L93.0,403.55 L93.5,403.32 L94.0,403.11 L94.5,402.92 L95.0,402.75 L95.5,402.61 L96.0,402.49 L96.5,402.39 L97.0,402.31 L97.5,402.25 L98.0,402.21 L98.5,402.18 L99.0,402.17 L99.5,402.18 L100.0,402.20 L100.5,402.23 L101.0,402.28 L101.5,402.34 L102.0,402.41 L102.5,402.49 L103.0,402.58 L103.5,402.68 L104.0,402.79 L104.5,402.90 L105.0,403.02 L105.5,403.15 L106.0,403.27 L106.5,403.41 L107.0,403.54 L107.5,403.68 L108.0,403.82 L108.5,403.95 L109.0,404.09 L109.5,404.23 L110.0,404.36 L110.5,404.49 L111.0,404.61 L111.5,404.73 L112.0,404.85 L112.5,404.95 L113.0,405.05 L113.5,405.15 L114.0,405.23 L114.5,405.32 L115.0,405.39 L115.5,405.46 L116.0,405.52 L116.5,405.57 L117.0,405.62 L117.5,405.66 L118.0,405.70 L118.5,405.73 L119.0,405.75 L119.5,405.76 L120.0,405.77 L120.5,405.77 L121.0,405.77 L121.5,405.75 L122.0,405.73 L122.5,405.71 L123.0,405.68 L123.5,405.64 L124.0,405.59 L124.5,405.54 L125.0,405.48 L125.5,405.41 L126.0,405.34 L126.5,405.26 L127.0,405.18 L127.5,405.08 L128.0,404.98 L128.5,404.88 L129.0,404.76 L129.5,404.64 L130.0,404.52 L130.5,404.38 L131.0,404.25 L131.5,404.10 L132.0,403.96 L132.5,403.80 L133.0,403.64 L133.5,403.48 L134.0,403.32 L134.5,403.15 L135.0,402.97 L135.5,402.80 L136.0,402.62 L136.5,402.43 L137.0,402.25 L137.5,402.06 L138.0,401.87 L138.5,401.68 L139.0,401.49 L139.5,401.30 L140.0,401.10 L140.5,400.91 L141.0,400.71 L141.5,400.52 L142.0,400.32 L142.5,400.13 L143.0,399.93 L143.5,399.74 L144.0,399.55 L144.5,399.36 L145.0,399.17 L145.5,398.99 L146.0,398.80 L146.5,398.62 L147.0,398.44 L147.5,398.27 L148.0,398.10 L148.5,397.93 L149.0,397.77 L149.5,397.61 L150.0,397.45 L150.5,397.30 L151.0,397.15 L151.5,397.01 L152.0,396.88 L152.5,396.75 L153.0,396.63 L153.5,396.51 L154.0,396.40 L154.5,396.30 L155.0,396.20 L155.5,396.11 L156.0,396.03 L156.5,395.96 L157.0,395.90 L157.5,395.84 L158.0,395.79 L158.5,395.76 L159.0,395.73 L159.5,395.71 L160.0,395.70 L160.5,395.70 L161.0,395.71 L161.5,395.73 L162.0,395.76 L162.5,395.81 L163.0,395.86 L163.5,395.93 L164.0,396.01 L164.5,396.10 L165.0,396.20 L165.5,396.31 L166.0,396.44 L166.5,396.59 L167.0,396.74 L167.5,396.91 L168.0,397.10 L168.5,397.29 L169.0,397.51 L169.5,397.73 L170.0,397.98 L170.5,398.24 L171.0,398.52 L171.5,398.82 L172.0,399.14 L172.5,399.49 L173.0,399.86 L173.5,400.25 L174.0,400.67 L174.5,401.12 L175.0,401.59 L175.5,402.10 L176.0,402.63 L176.5,403.20 L177.0,403.80 L177.5,404.43 L178.0,405.10 L178.5,405.81 L179.0,406.55 L179.5,407.34 L180.0,408.16 L180.5,409.03 L181.0,409.94 L181.5,410.89 L182.0,411.89 L182.5,412.93 L183.0,414.03 L183.5,415.17 L184.0,416.36 L184.5,417.60 L185.0,418.91 L185.5,420.29 L186.0,421.76 L186.5,423.35 L187.0,425.05 L187.5,426.89 L188.0,428.88 L188.5,431.04 L189.0,433.37 L189.5,435.90 L190.0,438.63 L190.5,441.60 L191.0,444.78 L191.5,448.13 L192.0,451.57 L192.5,455.04 L193.0,458.47 L193.5,461.77 L194.0,464.88 L194.5,467.73 L195.0,470.26 L195.5,472.43 L196.0,474.28 L196.5,475.82 L197.0,477.08 L197.5,478.08 L198.0,478.83 L198.5,479.37 L199.0,479.70 L199.5,479.86 L200.0,479.86 L200.5,479.73 L201.0,479.48 L201.5,479.13 L202.0,478.68 L202.5,478.15 L203.0,477.55 L203.5,476.88 L204.0,476.16 L204.5,475.40 L205.0,474.60 L205.5,473.78 L206.0,472.94 L206.5,472.10 L207.0,471.26 L207.5,470.45 L208.0,469.65 L208.5,468.89 L209.0,468.17 L209.5,467.47 L210.0,466.81 L210.5,466.17 L211.0,465.55 L211.5,464.95 L212.0,464.38 L212.5,463.82 L213.0,463.27 L213.5,462.73 L214.0,462.21 L214.5,461.69 L215.0,461.17 L215.5,460.65 L216.0,460.14 L216.5,459.62 L217.0,459.09 L217.5,458.56 L218.0,458.02 L218.5,457.46 L219.0,456.89 L219.5,456.30 L220.0,455.69 L220.5,455.08 L221.0,454.45 L221.5,453.82 L222.0,453.17 L222.5,452.53 L223.0,451.88 L223.5,451.24 L224.0,450.59 L224.5,449.95 L225.0,449.32 L225.5,448.70 L226.0,448.09 L226.5,447.49 L227.0,446.91 L227.5,446.35 L228.0,445.80 L228.5,445.28 L229.0,444.78 L229.5,444.30 L230.0,443.83 L230.5,443.39 L231.0,442.96 L231.5,442.55 L232.0,442.16 L232.5,441.78 L233.0,441.42 L233.5,441.08 L234.0,440.75 L234.5,440.43 L235.0,440.13 L235.5,439.84 L236.0,439.56 L236.5,439.29 L237.0,439.04 L237.5,438.79 L238.0,438.56 L238.5,438.33 L239.0,438.12 L239.5,437.91 L240.0,437.71 L240.5,437.52 L241.0,437.34 L241.5,437.16 L242.0,436.98 L242.5,436.82 L243.0,436.65 L243.5,436.49 L244.0,436.34 L244.5,436.18 L245.0,436.03 L245.5,435.88 L246.0,435.74 L246.5,435.59 L247.0,435.45 L247.5,435.31 L248.0,435.17 L248.5,435.03 L249.0,434.90 L249.5,434.77 L250.0,434.64 L250.5,434.51 L251.0,434.39 L251.5,434.27 L252.0,434.16 L252.5,434.05 L253.0,433.94 L253.5,433.84 L254.0,433.74 L254.5,433.64 L255.0,433.55 L255.5,433.46 L256.0,433.38 L256.5,433.30 L257.0,433.23 L257.5,433.16 L258.0,433.10 L258.5,433.04 L259.0,432.98 L259.5,432.94 L260.0,432.89 L260.5,432.86 L261.0,432.83 L261.5,432.80 L262.0,432.78 L262.5,432.77 L263.0,432.77 L263.5,432.77 L264.0,432.77 L264.5,432.79 L265.0,432.80 L265.5,432.83 L266.0,432.86 L266.5,432.90 L267.0,432.94 L267.5,432.98 L268.0,433.03 L268.5,433.09 L269.0,433.15 L269.5,433.21 L270.0,433.28 L270.5,433.35 L271.0,433.43 L271.5,433.50 L272.0,433.59 L272.5,433.67 L273.0,433.75 L273.5,433.84 L274.0,433.93 L274.5,434.02 L275.0,434.12 L275.5,434.21 L276.0,434.31 L276.5,434.40 L277.0,434.50 L277.5,434.60 L278.0,434.70 L278.5,434.80 L279.0,434.89 L279.5,434.99 L280.0,435.09 L280.5,435.18 L281.0,435.28 L281.5,435.37 L282.0,435.46 L282.5,435.55 L283.0,435.64 L283.5,435.72 L284.0,435.81 L284.5,435.89 L285.0,435.96 L285.5,436.04 L286.0,436.11 L286.5,436.18 L287.0,436.24 L287.5,436.30 L288.0,436.35 L288.5,436.40 L289.0,436.45 L289.5,436.49 L290.0,436.53 L290.5,436.56 L291.0,436.58 L291.5,436.60 L292.0,436.61 L292.5,436.62 L293.0,436.62 L293.5,436.61 L294.0,436.59 L294.5,436.57 L295.0,436.54 L295.5,436.51 L296.0,436.46 L296.5,436.41 L297.0,436.35" stroke="#a963ad"/>
<path d="M45.0,442.25 L45.5,442.39 L46.0,442.60 L46.5,442.91 L47.0,443.29 L47.5,443.76 L48.0,444.31 L48.5,444.93 L49.0,445.63 L49.5,446.40 L50.0,447.24 L50.5,448.15 L51.0,449.12 L51.5,450.17 L52.0,451.27 L52.5,452.43 L53.0,453.66 L53.5,454.94 L54.0,456.27 L54.5,457.66 L55.0,459.10 L55.5,460.59 L56.0,462.12 L56.5,463.70 L57.0,465.32 L57.5,466.94 L58.0,468.54 L58.5,470.09 L59.0,471.56 L59.5,472.91 L60.0,474.13 L60.5,475.18 L61.0,476.03 L61.5,476.65 L62.0,477.04 L62.5,477.19 L63.0,477.10 L63.5,476.79 L64.0,476.25 L64.5,475.48 L65.0,474.50 L65.5,473.29 L66.0,471.90 L66.5,470.34 L67.0,468.64 L67.5,466.82 L68.0,464.91 L68.5,462.95 L69.0,460.94 L69.5,458.92 L70.0,456.92 L70.5,454.93 L71.0,452.95 L71.5,450.97 L72.0,448.99 L72.5,446.99 L73.0,444.98 L73.5,442.94 L74.0,440.87 L74.5,438.76 L75.0,436.61 L75.5,434.51 L76.0,432.53 L76.5,430.74 L77.0,429.21 L77.5,427.90 L78.0,426.76 L78.5,425.75 L79.0,424.82 L79.5,423.93 L80.0,423.08 L80.5,422.25 L81.0,421.45 L81.5,420.69 L82.0,419.95 L82.5,419.25 L83.0,418.58 L83.5,417.94 L84.0,417.33 L84.5,416.75 L85.0,416.20 L85.5,415.69 L86.0,415.21 L86.5,414.76 L87.0,414.34 L87.5,413.95 L88.0,413.60 L88.5,413.28 L89.0,412.99 L89.5,412.72 L90.0,412.49 L90.5,412.28 L91.0,412.10 L91.5,411.94 L92.0,411.81 L92.5,411.70 L93.0,411.62 L93.5,411.55 L94.0,411.51 L94.5,411.49 L95.0,411.48 L95.5,411.50 L96.0,411.53 L96.5,411.58 L97.0,411.64 L97.5,411.72 L98.0,411.81 L98.5,411.92 L99.0,412.04 L99.5,412.16 L100.0,412.30 L100.5,412.45 L101.0,412.60 L101.5,412.77 L102.0,412.94 L102.5,413.11 L103.0,413.29 L103.5,413.48 L104.0,413.66 L104.5,413.85 L105.0,414.04 L105.5,414.23 L106.0,414.42 L106.5,414.61 L107.0,414.80 L107.5,414.99 L108.0,415.18 L108.5,415.36 L109.0,415.55 L109.5,415.73 L110.0,415.91 L110.5,416.09 L111.0,416.26 L111.5,416.43 L112.0,416.60 L112.5,416.76 L113.0,416.92 L113.5,417.08 L114.0,417.22 L114.5,417.37 L115.0,417.51 L115.5,417.64 L116.0,417.76 L116.5,417.88 L117.0,417.99 L117.5,418.10 L118.0,418.19 L118.5,418.28 L119.0,418.36 L119.5,418.43 L120.0,418.50 L120.5,418.55 L121.0,418.59 L121.5,418.63 L122.0,418.65 L122.5,418.66 L123.0,418.67 L123.5,418.66 L124.0,418.63 L124.5,418.60 L125.0,418.56 L125.5,418.50 L126.0,418.44 L126.5,418.36 L127.0,418.28 L127.5,418.18 L128.0,418.08 L128.5,417.96 L129.0,417.84 L129.5,417.71 L130.0,417.58 L130.5,417.44 L131.0,417.28 L131.5,417.13 L132.0,416.97 L132.5,416.80 L133.0,416.62 L133.5,416.45 L134.0,416.26 L134.5,416.08 L135.0,415.89 L135.5,415.69 L136.0,415.50 L136.5,415.30 L137.0,415.09 L137.5,414.89 L138.0,414.69 L138.5,414.48 L139.0,414.27 L139.5,414.07 L140.0,413.86 L140.5,413.65 L141.0,413.45 L141.5,413.24 L142.0,413.04 L142.5,412.84 L143.0,412.64 L143.5,412.44 L144.0,412.25 L144.5,412.06 L145.0,411.88 L145.5,411.69 L146.0,411.52 L146.5,411.35 L147.0,411.18 L147.5,411.02 L148.0,410.86 L148.5,410.72 L149.0,410.58 L149.5,410.44 L150.0,410.31 L150.5,410.20 L151.0,410.09 L151.5,409.99 L152.0,409.89 L152.5,409.81 L153.0,409.74 L153.5,409.68 L154.0,409.62 L154.5,409.58 L155.0,409.55 L155.5,409.53 L156.0,409.53 L156.5,409.53 L157.0,409.55 L157.5,409.57 L158.0,409.61 L158.5,409.66 L159.0,409.73 L159.5,409.80 L160.0,409.89 L160.5,409.99 L161.0,410.10 L161.5,410.22 L162.0,410.36 L162.5,410.51 L163.0,410.67 L163.5,410.85 L164.0,411.03 L164.5,411.24 L165.0,411.45 L165.5,411.68 L166.0,411.92 L166.5,412.17 L167.0,412.44 L167.5,412.72 L168.0,413.02 L168.5,413.33 L169.0,413.65 L169.5,413.99 L170.0,414.34 L170.5,414.71 L171.0,415.09 L171.5,415.48 L172.0,415.89 L172.5,416.32 L173.0,416.76 L173.5,417.21 L174.0,417.68 L174.5,418.17 L175.0,418.67 L175.5,419.19 L176.0,419.72 L176.5,420.26 L177.0,420.83 L177.5,421.41 L178.0,422.00 L178.5,422.62 L179.0,423.25 L179.5,423.90 L180.0,424.58 L180.5,425.27 L181.0,425.99 L181.5,426.73 L182.0,427.50 L182.5,428.30 L183.0,429.13 L183.5,430.00 L184.0,430.96 L184.5,432.05 L185.0,433.29 L185.5,434.72 L186.0,436.39 L186.5,438.32 L187.0,440.51 L187.5,442.91 L188.0,445.47 L188.5,448.14 L189.0,450.85 L189.5,453.56 L190.0,456.20 L190.5,458.73 L191.0,461.11 L191.5,463.31 L192.0,465.36 L192.5,467.25 L193.0,468.98 L193.5,470.56 L194.0,472.00 L194.5,473.30 L195.0,474.45 L195.5,475.47 L196.0,476.36 L196.5,477.12 L197.0,477.76 L197.5,478.28 L198.0,478.68 L198.5,478.96 L199.0,479.14 L199.5,479.21 L200.0,479.18 L200.5,479.05 L201.0,478.83 L201.5,478.52 L202.0,478.12 L202.5,477.64 L203.0,477.07 L203.5,476.44 L204.0,475.73 L204.5,474.95 L205.0,474.13 L205.5,473.29 L206.0,472.45 L206.5,471.64 L207.0,470.88 L207.5,470.19 L208.0,469.59 L208.5,469.07 L209.0,468.62 L209.5,468.24 L210.0,467.90 L210.5,467.59 L211.0,467.31 L211.5,467.03 L212.0,466.75 L212.5,466.46 L213.0,466.13 L213.5,465.78 L214.0,465.39 L214.5,464.98 L215.0,464.54 L215.5,464.08 L216.0,463.60 L216.5,463.09 L217.0,462.58 L217.5,462.04 L218.0,461.50 L218.5,460.94 L219.0,460.37 L219.5,459.80 L220.0,459.23 L220.5,458.65 L221.0,458.07 L221.5,457.50 L222.0,456.93 L222.5,456.36 L223.0,455.81 L223.5,455.27 L224.0,454.74 L224.5,454.22 L225.0,453.71 L225.5,453.22 L226.0,452.73 L226.5,452.26 L227.0,451.81 L227.5,451.36 L228.0,450.92 L228.5,450.50 L229.0,450.08 L229.5,449.68 L230.0,449.29 L230.5,448.90 L231.0,448.53 L231.5,448.17 L232.0,447.82 L232.5,447.48 L233.0,447.15 L233.5,446.83 L234.0,446.51 L234.5,446.21 L235.0,445.92 L235.5,445.63 L236.0,445.36 L236.5,445.09 L237.0,444.84 L237.5,444.59 L238.0,444.35 L238.5,444.12 L239.0,443.89 L239.5,443.68 L240.0,443.47 L240.5,443.27 L241.0,443.08 L241.5,442.89 L242.0,442.71 L242.5,442.54 L243.0,442.38 L243.5,442.22 L244.0,442.07 L244.5,441.93 L245.0,441.79 L245.5,441.66 L246.0,441.54 L246.5,441.42 L247.0,441.31 L247.5,441.20 L248.0,441.10 L248.5,441.01 L249.0,440.92 L249.5,440.83 L250.0,440.75 L250.5,440.68 L251.0,440.61 L251.5,440.55 L252.0,440.48 L252.5,440.43 L253.0,440.38 L253.5,440.33 L254.0,440.29 L254.5,440.25 L255.0,440.21 L255.5,440.18 L256.0,440.15 L256.5,440.12 L257.0,440.10 L257.5,440.08 L258.0,440.06 L258.5,440.05 L259.0,440.03 L259.5,440.02 L260.0,440.02 L260.5,440.01 L261.0,440.01 L261.5,440.01 L262.0,440.01 L262.5,440.02 L263.0,440.02 L263.5,440.03 L264.0,440.04 L264.5,440.05 L265.0,440.07 L265.5,440.08 L266.0,440.10 L266.5,440.12 L267.0,440.14 L267.5,440.16 L268.0,440.18 L268.5,440.21 L269.0,440.23 L269.5,440.26 L270.0,440.29 L270.5,440.32 L271.0,440.35 L271.5,440.38 L272.0,440.42 L272.5,440.45 L273.0,440.49 L273.5,440.52 L274.0,440.56 L274.5,440.60 L275.0,440.63 L275.5,440.67 L276.0,440.71 L276.5,440.75 L277.0,440.79 L277.5,440.83 L278.0,440.87 L278.5,440.91 L279.0,440.96 L279.5,441.00 L280.0,441.04 L280.5,441.08 L281.0,441.12 L281.5,441.17 L282.0,441.21 L282.5,441.25 L283.0,441.29 L283.5,441.33 L284.0,441.37 L284.5,441.41 L285.0,441.45 L285.5,441.49 L286.0,441.53 L286.5,441.57 L287.0,441.61 L287.5,441.65 L288.0,441.68 L288.5,441.72 L289.0,441.75 L289.5,441.79 L290.0,441.82 L290.5,441.85 L291.0,441.88 L291.5,441.91 L292.0,441.94 L292.5,441.96 L293.0,441.99 L293.5,442.01 L294.0,442.03 L294.5,442.06 L295.0,442.07 L295.5,442.09 L296.0,442.11 L296.5,442.12 L297.0,442.14" stroke="#672572"/>
</g>
<circle cx="162.4" cy="375.8" r="4" fill="#e3bde3"/>
<circle cx="162.4" cy="395.5" r="4" fill="#a963ad"/>
<circle cx="158.3" cy="409.5" r="4" fill="#672572"/>
<rect x="45.0" y="302.0" width="251.0" height="223.0" fill="none" stroke="#6e6e6e" stroke-width="1.7"/>
<line x1="45.0" y1="497.15" x2="48.8" y2="497.15" stroke="#6e6e6e" stroke-width="1.3"/>
<line x1="296.0" y1="497.15" x2="292.0" y2="497.15" stroke="#6e6e6e" stroke-width="1.3"/>
<text x="40.5" y="502.9" font-size="14.0" fill="#555555" text-anchor="end" font-weight="normal" font-style="normal" >-10</text>
<line x1="45.0" y1="469.27" x2="48.8" y2="469.27" stroke="#6e6e6e" stroke-width="1.3"/>
<line x1="296.0" y1="469.27" x2="292.0" y2="469.27" stroke="#6e6e6e" stroke-width="1.3"/>
<line x1="45.0" y1="441.40" x2="48.8" y2="441.40" stroke="#6e6e6e" stroke-width="1.3"/>
<line x1="296.0" y1="441.40" x2="292.0" y2="441.40" stroke="#6e6e6e" stroke-width="1.3"/>
<text x="40.5" y="447.2" font-size="14.0" fill="#555555" text-anchor="end" font-weight="normal" font-style="normal" >0</text>
<line x1="45.0" y1="413.52" x2="48.8" y2="413.52" stroke="#6e6e6e" stroke-width="1.3"/>
<line x1="296.0" y1="413.52" x2="292.0" y2="413.52" stroke="#6e6e6e" stroke-width="1.3"/>
<line x1="45.0" y1="385.65" x2="48.8" y2="385.65" stroke="#6e6e6e" stroke-width="1.3"/>
<line x1="296.0" y1="385.65" x2="292.0" y2="385.65" stroke="#6e6e6e" stroke-width="1.3"/>
<text x="40.5" y="391.4" font-size="14.0" fill="#555555" text-anchor="end" font-weight="normal" font-style="normal" >10</text>
<line x1="45.0" y1="357.77" x2="48.8" y2="357.77" stroke="#6e6e6e" stroke-width="1.3"/>
<line x1="296.0" y1="357.77" x2="292.0" y2="357.77" stroke="#6e6e6e" stroke-width="1.3"/>
<line x1="45.0" y1="329.90" x2="48.8" y2="329.90" stroke="#6e6e6e" stroke-width="1.3"/>
<line x1="296.0" y1="329.90" x2="292.0" y2="329.90" stroke="#6e6e6e" stroke-width="1.3"/>
<text x="40.5" y="335.7" font-size="14.0" fill="#555555" text-anchor="end" font-weight="normal" font-style="normal" >20</text>
<line x1="170.5" y1="525.0" x2="170.5" y2="522.0" stroke="#6e6e6e" stroke-width="1.3"/>
<text x="48.0" y="312.2" font-size="10.0" fill="#777777" text-anchor="start" font-weight="normal" font-style="italic" textLength="52.3" lengthAdjust="spacingAndGlyphs" >Dorsiflexion</text>
<text x="48.4" y="521.6" font-size="10.0" fill="#777777" text-anchor="start" font-weight="normal" font-style="italic" textLength="61.6" lengthAdjust="spacingAndGlyphs" >Plantarflexion</text>
<text x="171.1" y="293.4" font-size="16.0" fill="#3a3a3a" text-anchor="middle" font-weight="bold" font-style="normal" textLength="35.0" lengthAdjust="spacingAndGlyphs" stroke="#3a3a3a" stroke-width="0.55">TD03</text>
<text transform="translate(14.2,421.6) rotate(-90)" font-size="16" fill="#555555" text-anchor="middle" textLength="122.5" lengthAdjust="spacingAndGlyphs">Ankle angle (deg)</text>
<text x="45.0" y="543.0" font-size="14.0" fill="#555555" text-anchor="middle" font-weight="normal" font-style="normal" >0</text>
<text x="171.0" y="543.0" font-size="14.0" fill="#555555" text-anchor="middle" font-weight="normal" font-style="normal" >50</text>
<text x="297.5" y="543.0" font-size="14.0" fill="#555555" text-anchor="middle" font-weight="normal" font-style="normal" >100</text>
<text x="171.0" y="562.4" font-size="15.5" fill="#555555" text-anchor="middle" font-weight="normal" font-style="normal" textLength="94.0" lengthAdjust="spacingAndGlyphs" >Gait cycle (%)</text>
<line x1="208.5" y1="319.5" x2="251.5" y2="319.5" stroke="#e3bde3" stroke-width="3"/>
<text x="256.2" y="324.9" font-size="12.5" fill="#444444" text-anchor="start" font-weight="normal" font-style="normal" >Low</text>
<line x1="208.5" y1="335.9" x2="251.5" y2="335.9" stroke="#a963ad" stroke-width="3"/>
<text x="256.2" y="341.2" font-size="12.5" fill="#444444" text-anchor="start" font-weight="normal" font-style="normal" >Med</text>
<line x1="208.5" y1="352.2" x2="251.5" y2="352.2" stroke="#672572" stroke-width="3"/>
<text x="256.2" y="357.6" font-size="12.5" fill="#444444" text-anchor="start" font-weight="normal" font-style="normal" >High</text>
<line x1="366.7" y1="170.00" x2="447.5" y2="170.00" stroke="#c4c4c4" stroke-width="1.5" stroke-dasharray="8.6 7.5" stroke-dashoffset="4.5"/>
<text x="445.7" y="179.7" font-size="10.0" fill="#c8c8c8" text-anchor="end" font-weight="normal" font-style="normal" textLength="29.5" lengthAdjust="spacingAndGlyphs" >DF = 12</text>
<line x1="386.50" y1="97.00" x2="386.50" y2="128.80" stroke="#e3bde3" stroke-width="1.7"/>
<line x1="382.75" y1="97.00" x2="390.25" y2="97.00" stroke="#e3bde3" stroke-width="1.8"/>
<line x1="382.75" y1="128.80" x2="390.25" y2="128.80" stroke="#e3bde3" stroke-width="1.8"/>
<circle cx="386.50" cy="112.60" r="3.30" fill="#e3bde3"/>
<line x1="406.80" y1="126.00" x2="406.80" y2="148.60" stroke="#a963ad" stroke-width="1.7"/>
<line x1="403.05" y1="126.00" x2="410.55" y2="126.00" stroke="#a963ad" stroke-width="1.8"/>
<line x1="403.05" y1="148.60" x2="410.55" y2="148.60" stroke="#a963ad" stroke-width="1.8"/>
<circle cx="406.80" cy="137.30" r="3.40" fill="#a963ad"/>
<line x1="427.10" y1="143.20" x2="427.10" y2="158.20" stroke="#672572" stroke-width="1.7"/>
<line x1="423.35" y1="143.20" x2="430.85" y2="143.20" stroke="#672572" stroke-width="1.8"/>
<line x1="423.35" y1="158.20" x2="430.85" y2="158.20" stroke="#672572" stroke-width="1.8"/>
<circle cx="427.10" cy="150.40" r="3.50" fill="#672572"/>
<path d="M369.7,62.7 L366.7,62.7 L366.7,241.7" fill="none" stroke="#6e6e6e" stroke-width="1.5"/>
<line x1="365.9" y1="241.7" x2="447.5" y2="241.7" stroke="#6e6e6e" stroke-width="1.5"/>
<line x1="366.7" y1="241.70" x2="369.5" y2="241.70" stroke="#6e6e6e" stroke-width="1.2"/>
<text x="361.3" y="245.6" font-size="11.3" fill="#555555" text-anchor="end" font-weight="normal" font-style="normal" >0</text>
<line x1="366.7" y1="211.87" x2="369.5" y2="211.87" stroke="#6e6e6e" stroke-width="1.2"/>
<line x1="366.7" y1="182.03" x2="369.5" y2="182.03" stroke="#6e6e6e" stroke-width="1.2"/>
<text x="361.3" y="185.9" font-size="11.3" fill="#555555" text-anchor="end" font-weight="normal" font-style="normal" >10</text>
<line x1="366.7" y1="152.20" x2="369.5" y2="152.20" stroke="#6e6e6e" stroke-width="1.2"/>
<line x1="366.7" y1="122.37" x2="369.5" y2="122.37" stroke="#6e6e6e" stroke-width="1.2"/>
<text x="361.3" y="126.3" font-size="11.3" fill="#555555" text-anchor="end" font-weight="normal" font-style="normal" >20</text>
<line x1="366.7" y1="92.53" x2="369.5" y2="92.53" stroke="#6e6e6e" stroke-width="1.2"/>
<line x1="366.7" y1="62.70" x2="369.5" y2="62.70" stroke="#6e6e6e" stroke-width="1.2"/>
<text x="361.3" y="66.6" font-size="11.3" fill="#555555" text-anchor="end" font-weight="normal" font-style="normal" >30</text>
<line x1="386.90" y1="241.7" x2="386.90" y2="239.2" stroke="#6e6e6e" stroke-width="1.2"/>
<line x1="407.10" y1="241.7" x2="407.10" y2="239.2" stroke="#6e6e6e" stroke-width="1.2"/>
<line x1="427.30" y1="241.7" x2="427.30" y2="239.2" stroke="#6e6e6e" stroke-width="1.2"/>
<text x="407.1" y="257.2" font-size="10.0" fill="#555555" text-anchor="middle" font-weight="normal" font-style="normal" textLength="62.0" lengthAdjust="spacingAndGlyphs" >Low Med High</text>
<text transform="translate(339.2,153.4) rotate(-90)" font-size="15.2" fill="#555555" text-anchor="middle" textLength="152.8" lengthAdjust="spacingAndGlyphs">Max dorsiflexion (deg)</text>
<line x1="537.60" y1="196.60" x2="537.60" y2="199.20" stroke="#e3bde3" stroke-width="1.7"/>
<line x1="533.85" y1="196.60" x2="541.35" y2="196.60" stroke="#e3bde3" stroke-width="1.8"/>
<line x1="533.85" y1="199.20" x2="541.35" y2="199.20" stroke="#e3bde3" stroke-width="1.8"/>
<circle cx="537.60" cy="197.90" r="3.30" fill="#e3bde3"/>
<line x1="557.80" y1="150.50" x2="557.80" y2="158.30" stroke="#a963ad" stroke-width="1.7"/>
<line x1="554.05" y1="150.50" x2="561.55" y2="150.50" stroke="#a963ad" stroke-width="1.8"/>
<line x1="554.05" y1="158.30" x2="561.55" y2="158.30" stroke="#a963ad" stroke-width="1.8"/>
<circle cx="557.80" cy="154.60" r="3.40" fill="#a963ad"/>
<line x1="578.00" y1="106.50" x2="578.00" y2="119.30" stroke="#672572" stroke-width="1.7"/>
<line x1="574.25" y1="106.50" x2="581.75" y2="106.50" stroke="#672572" stroke-width="1.8"/>
<line x1="574.25" y1="119.30" x2="581.75" y2="119.30" stroke="#672572" stroke-width="1.8"/>
<circle cx="578.00" cy="113.10" r="3.50" fill="#672572"/>
<path d="M520.8,62.7 L517.8,62.7 L517.8,241.7" fill="none" stroke="#6e6e6e" stroke-width="1.5"/>
<line x1="517.0" y1="241.7" x2="598.5" y2="241.7" stroke="#6e6e6e" stroke-width="1.5"/>
<line x1="517.8" y1="241.70" x2="520.6" y2="241.70" stroke="#6e6e6e" stroke-width="1.2"/>
<text x="512.8" y="245.6" font-size="11.3" fill="#555555" text-anchor="end" font-weight="normal" font-style="normal" >0</text>
<line x1="517.8" y1="223.80" x2="520.6" y2="223.80" stroke="#6e6e6e" stroke-width="1.2"/>
<line x1="517.8" y1="205.90" x2="520.6" y2="205.90" stroke="#6e6e6e" stroke-width="1.2"/>
<text x="512.8" y="209.8" font-size="11.3" fill="#555555" text-anchor="end" font-weight="normal" font-style="normal" >0.2</text>
<line x1="517.8" y1="188.00" x2="520.6" y2="188.00" stroke="#6e6e6e" stroke-width="1.2"/>
<line x1="517.8" y1="170.10" x2="520.6" y2="170.10" stroke="#6e6e6e" stroke-width="1.2"/>
<text x="512.8" y="174.0" font-size="11.3" fill="#555555" text-anchor="end" font-weight="normal" font-style="normal" >0.4</text>
<line x1="517.8" y1="152.20" x2="520.6" y2="152.20" stroke="#6e6e6e" stroke-width="1.2"/>
<line x1="517.8" y1="134.30" x2="520.6" y2="134.30" stroke="#6e6e6e" stroke-width="1.2"/>
<text x="512.8" y="138.2" font-size="11.3" fill="#555555" text-anchor="end" font-weight="normal" font-style="normal" >0.6</text>
<line x1="517.8" y1="116.40" x2="520.6" y2="116.40" stroke="#6e6e6e" stroke-width="1.2"/>
<line x1="517.8" y1="98.50" x2="520.6" y2="98.50" stroke="#6e6e6e" stroke-width="1.2"/>
<text x="512.8" y="102.4" font-size="11.3" fill="#555555" text-anchor="end" font-weight="normal" font-style="normal" >0.8</text>
<line x1="517.8" y1="80.60" x2="520.6" y2="80.60" stroke="#6e6e6e" stroke-width="1.2"/>
<line x1="517.8" y1="62.70" x2="520.6" y2="62.70" stroke="#6e6e6e" stroke-width="1.2"/>
<text x="512.8" y="66.6" font-size="11.3" fill="#555555" text-anchor="end" font-weight="normal" font-style="normal" >1</text>
<line x1="537.97" y1="241.7" x2="537.97" y2="239.2" stroke="#6e6e6e" stroke-width="1.2"/>
<line x1="558.15" y1="241.7" x2="558.15" y2="239.2" stroke="#6e6e6e" stroke-width="1.2"/>
<line x1="578.33" y1="241.7" x2="578.33" y2="239.2" stroke="#6e6e6e" stroke-width="1.2"/>
<text x="558.1" y="257.5" font-size="10.0" fill="#555555" text-anchor="middle" font-weight="normal" font-style="normal" textLength="62.0" lengthAdjust="spacingAndGlyphs" >Low Med High</text>
<text transform="translate(487.4,150.9) rotate(-90)" font-size="15.8" fill="#555555" text-anchor="middle" textLength="174.0" lengthAdjust="spacingAndGlyphs">DF ankle torque (Nm/kg)</text>
<text x="471.3" y="26.0" font-size="16.0" fill="#3a3a3a" text-anchor="middle" font-weight="bold" font-style="normal" textLength="34.0" lengthAdjust="spacingAndGlyphs" stroke="#3a3a3a" stroke-width="0.55">CP03</text>
<text x="472.2" y="293.4" font-size="16.0" fill="#3a3a3a" text-anchor="middle" font-weight="bold" font-style="normal" textLength="36.0" lengthAdjust="spacingAndGlyphs" stroke="#3a3a3a" stroke-width="0.55">TD03</text>
<rect x="368.1" y="330.6" width="80.7" height="178.9" fill="#f9f7ea"/>
<line x1="368.1" y1="438.00" x2="448.8" y2="438.00" stroke="#c4c4c4" stroke-width="1.5" stroke-dasharray="8.6 7.5" stroke-dashoffset="4.3"/>
<text x="444.7" y="434.3" font-size="10.0" fill="#c8c8c8" text-anchor="end" font-weight="normal" font-style="normal" textLength="29.5" lengthAdjust="spacingAndGlyphs" >DF = 12</text>
<line x1="388.40" y1="429.60" x2="388.40" y2="444.80" stroke="#e3bde3" stroke-width="1.7"/>
<line x1="384.65" y1="429.60" x2="392.15" y2="429.60" stroke="#e3bde3" stroke-width="1.8"/>
<line x1="384.65" y1="444.80" x2="392.15" y2="444.80" stroke="#e3bde3" stroke-width="1.8"/>
<circle cx="388.40" cy="437.40" r="3.30" fill="#e3bde3"/>
<line x1="408.60" y1="446.80" x2="408.60" y2="462.80" stroke="#a963ad" stroke-width="1.7"/>
<line x1="404.85" y1="446.80" x2="412.35" y2="446.80" stroke="#a963ad" stroke-width="1.8"/>
<line x1="404.85" y1="462.80" x2="412.35" y2="462.80" stroke="#a963ad" stroke-width="1.8"/>
<circle cx="408.60" cy="454.70" r="3.40" fill="#a963ad"/>
<line x1="428.70" y1="457.80" x2="428.70" y2="477.10" stroke="#672572" stroke-width="1.7"/>
<line x1="424.95" y1="457.80" x2="432.45" y2="457.80" stroke="#672572" stroke-width="1.8"/>
<line x1="424.95" y1="477.10" x2="432.45" y2="477.10" stroke="#672572" stroke-width="1.8"/>
<circle cx="428.70" cy="467.60" r="3.60" fill="#672572"/>
<path d="M371.1,330.6 L368.1,330.6 L368.1,509.5" fill="none" stroke="#6e6e6e" stroke-width="1.5"/>
<line x1="367.4" y1="509.5" x2="448.8" y2="509.5" stroke="#6e6e6e" stroke-width="1.5"/>
<line x1="368.1" y1="509.50" x2="370.9" y2="509.50" stroke="#6e6e6e" stroke-width="1.2"/>
<text x="362.2" y="513.4" font-size="11.3" fill="#555555" text-anchor="end" font-weight="normal" font-style="normal" >0</text>
<line x1="368.1" y1="479.68" x2="370.9" y2="479.68" stroke="#6e6e6e" stroke-width="1.2"/>
<line x1="368.1" y1="449.87" x2="370.9" y2="449.87" stroke="#6e6e6e" stroke-width="1.2"/>
<text x="362.2" y="453.8" font-size="11.3" fill="#555555" text-anchor="end" font-weight="normal" font-style="normal" >10</text>
<line x1="368.1" y1="420.05" x2="370.9" y2="420.05" stroke="#6e6e6e" stroke-width="1.2"/>
<line x1="368.1" y1="390.23" x2="370.9" y2="390.23" stroke="#6e6e6e" stroke-width="1.2"/>
<text x="362.2" y="394.1" font-size="11.3" fill="#555555" text-anchor="end" font-weight="normal" font-style="normal" >20</text>
<line x1="368.1" y1="360.42" x2="370.9" y2="360.42" stroke="#6e6e6e" stroke-width="1.2"/>
<line x1="368.1" y1="330.60" x2="370.9" y2="330.60" stroke="#6e6e6e" stroke-width="1.2"/>
<text x="362.2" y="334.5" font-size="11.3" fill="#555555" text-anchor="end" font-weight="normal" font-style="normal" >30</text>
<line x1="388.28" y1="509.5" x2="388.28" y2="507.0" stroke="#6e6e6e" stroke-width="1.2"/>
<line x1="408.45" y1="509.5" x2="408.45" y2="507.0" stroke="#6e6e6e" stroke-width="1.2"/>
<line x1="428.62" y1="509.5" x2="428.62" y2="507.0" stroke="#6e6e6e" stroke-width="1.2"/>
<text x="408.5" y="523.7" font-size="10.0" fill="#555555" text-anchor="middle" font-weight="normal" font-style="normal" textLength="62.4" lengthAdjust="spacingAndGlyphs" >Low Med High</text>
<text transform="translate(339.2,419.3) rotate(-90)" font-size="15.2" fill="#555555" text-anchor="middle" textLength="152.8" lengthAdjust="spacingAndGlyphs">Max dorsiflexion (deg)</text>
<rect x="517.0" y="331.2" width="80.4" height="178.0" fill="#f9f7ea"/>
<line x1="537.40" y1="469.60" x2="537.40" y2="476.60" stroke="#e3bde3" stroke-width="1.7"/>
<line x1="533.65" y1="469.60" x2="541.15" y2="469.60" stroke="#e3bde3" stroke-width="1.8"/>
<line x1="533.65" y1="476.60" x2="541.15" y2="476.60" stroke="#e3bde3" stroke-width="1.8"/>
<circle cx="537.40" cy="473.10" r="3.20" fill="#e3bde3"/>
<line x1="557.80" y1="448.20" x2="557.80" y2="467.20" stroke="#a963ad" stroke-width="1.7"/>
<line x1="554.05" y1="448.20" x2="561.55" y2="448.20" stroke="#a963ad" stroke-width="1.8"/>
<line x1="554.05" y1="467.20" x2="561.55" y2="467.20" stroke="#a963ad" stroke-width="1.8"/>
<circle cx="557.80" cy="457.50" r="3.40" fill="#a963ad"/>
<line x1="578.20" y1="438.90" x2="578.20" y2="467.20" stroke="#672572" stroke-width="1.7"/>
<line x1="574.45" y1="438.90" x2="581.95" y2="438.90" stroke="#672572" stroke-width="1.8"/>
<line x1="574.45" y1="467.20" x2="581.95" y2="467.20" stroke="#672572" stroke-width="1.8"/>
<circle cx="578.20" cy="452.80" r="3.60" fill="#672572"/>
<path d="M520.0,331.2 L517.0,331.2 L517.0,509.2" fill="none" stroke="#6e6e6e" stroke-width="1.5"/>
<line x1="516.2" y1="509.2" x2="597.4" y2="509.2" stroke="#6e6e6e" stroke-width="1.5"/>
<line x1="517.0" y1="509.20" x2="519.8" y2="509.20" stroke="#6e6e6e" stroke-width="1.2"/>
<text x="512.3" y="513.1" font-size="11.3" fill="#555555" text-anchor="end" font-weight="normal" font-style="normal" >0</text>
<line x1="517.0" y1="491.40" x2="519.8" y2="491.40" stroke="#6e6e6e" stroke-width="1.2"/>
<line x1="517.0" y1="473.60" x2="519.8" y2="473.60" stroke="#6e6e6e" stroke-width="1.2"/>
<text x="512.3" y="477.5" font-size="11.3" fill="#555555" text-anchor="end" font-weight="normal" font-style="normal" >0.2</text>
<line x1="517.0" y1="455.80" x2="519.8" y2="455.80" stroke="#6e6e6e" stroke-width="1.2"/>
<line x1="517.0" y1="438.00" x2="519.8" y2="438.00" stroke="#6e6e6e" stroke-width="1.2"/>
<text x="512.3" y="441.9" font-size="11.3" fill="#555555" text-anchor="end" font-weight="normal" font-style="normal" >0.4</text>
<line x1="517.0" y1="420.20" x2="519.8" y2="420.20" stroke="#6e6e6e" stroke-width="1.2"/>
<line x1="517.0" y1="402.40" x2="519.8" y2="402.40" stroke="#6e6e6e" stroke-width="1.2"/>
<text x="512.3" y="406.3" font-size="11.3" fill="#555555" text-anchor="end" font-weight="normal" font-style="normal" >0.6</text>
<line x1="517.0" y1="384.60" x2="519.8" y2="384.60" stroke="#6e6e6e" stroke-width="1.2"/>
<line x1="517.0" y1="366.80" x2="519.8" y2="366.80" stroke="#6e6e6e" stroke-width="1.2"/>
<text x="512.3" y="370.7" font-size="11.3" fill="#555555" text-anchor="end" font-weight="normal" font-style="normal" >0.8</text>
<line x1="517.0" y1="349.00" x2="519.8" y2="349.00" stroke="#6e6e6e" stroke-width="1.2"/>
<line x1="517.0" y1="331.20" x2="519.8" y2="331.20" stroke="#6e6e6e" stroke-width="1.2"/>
<text x="512.3" y="335.1" font-size="11.3" fill="#555555" text-anchor="end" font-weight="normal" font-style="normal" >1</text>
<line x1="537.10" y1="509.2" x2="537.10" y2="506.7" stroke="#6e6e6e" stroke-width="1.2"/>
<line x1="557.20" y1="509.2" x2="557.20" y2="506.7" stroke="#6e6e6e" stroke-width="1.2"/>
<line x1="577.30" y1="509.2" x2="577.30" y2="506.7" stroke="#6e6e6e" stroke-width="1.2"/>
<text x="557.2" y="523.5" font-size="10.0" fill="#555555" text-anchor="middle" font-weight="normal" font-style="normal" textLength="62.0" lengthAdjust="spacingAndGlyphs" >Low Med High</text>
<text transform="translate(487.4,418.3) rotate(-90)" font-size="15.8" fill="#555555" text-anchor="middle" textLength="174.0" lengthAdjust="spacingAndGlyphs">DF ankle torque (Nm/kg)</text>
</svg>
</body></html>
